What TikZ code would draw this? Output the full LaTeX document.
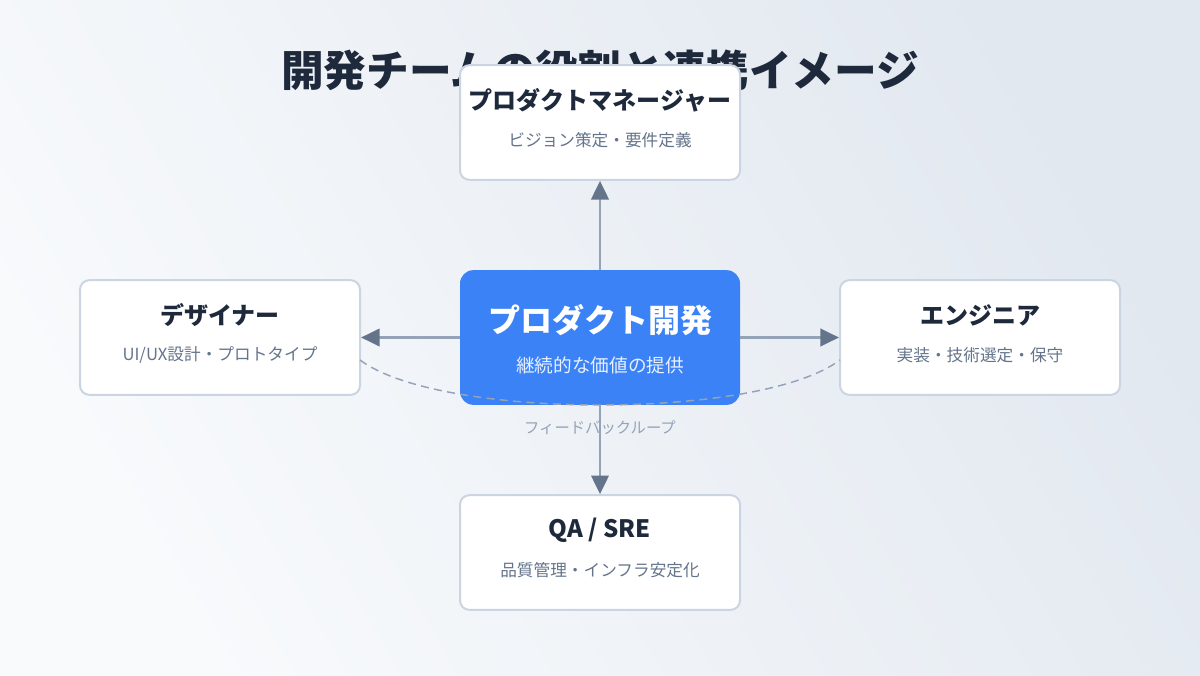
\documentclass[tikz,border=0pt]{standalone}
\usepackage{fontspec}
\setmainfont{Noto Sans CJK JP}
\usetikzlibrary{arrows.meta,positioning}
\definecolor{bgA}{HTML}{F8FAFC}
\definecolor{bgB}{HTML}{E2E8F0}
\definecolor{ink}{HTML}{1E293B}
\definecolor{subink}{HTML}{64748B}
\definecolor{edge}{HTML}{CBD5E1}
\definecolor{linkline}{HTML}{94A3B8}
\definecolor{tipcol}{HTML}{64748B}
\definecolor{core}{HTML}{3B82F6}
\tikzset{
  rolebox/.style={draw=edge, line width=1.5pt, fill=white, rounded corners=7pt,
    minimum width=210pt, minimum height=86pt},
  roletitle/.style={font=\fontsize{18}{20}\selectfont\bfseries, text=ink},
  rolesub/.style={font=\fontsize{12.5}{14}\selectfont, text=subink},
  link/.style={draw=linkline, line width=2.2pt,
    -{Triangle[length=14pt,width=13pt,fill=tipcol,color=tipcol]}}
}
\begin{document}
\begin{tikzpicture}[x=0.75pt,y=-0.75pt]
    % Fondo
    \shade[left color=bgB, right color=bgA, shading angle=-60]
      (0,0) rectangle (1200,675);
    \useasboundingbox (0,0) rectangle (1200,675);

    % Título
    \node[font=\fontsize{32}{35}\selectfont\bfseries, text=ink] (title) at (600,70) {開発チームの役割と連携イメージ};

    % Cajas de roles
    \node[rolebox] (pm) at (600,122.5) {};
    \node[rolebox] (des) at (220,337.5) {};
    \node[rolebox] (eng) at (980,337.5) {};
    \node[rolebox] (qa) at (600,552.5) {};
    \node[fill=core, rounded corners=10pt, minimum width=210pt, minimum height=101pt] (prod) at (600,337.5) {};

    % Flechas
    \draw[link] (prod.north) -- (pm.south);
    \draw[link] (prod.west) -- (des.east);
    \draw[link] (prod.east) -- (eng.west);

    % Lazo de retroalimentación
    \coordinate (fbL) at (360,360);
    \coordinate (fbR) at (840,360);
    \draw[linkline, line width=1.1pt, dash pattern=on 6pt off 4pt] (fbL) .. controls (440,420) and (760,420) .. (fbR);
    \node[font=\fontsize{11.5}{13}\selectfont, text=linkline] (fblabel) at (600,428) {フィードバックループ};
    \draw[link] (prod.south) -- (qa.north);

    % Textos
    \node[roletitle] (pmT) at (600,100) {プロダクトマネージャー};
    \node[rolesub] (pmS) at (600,140) {ビジョン策定・要件定義};
    \node[roletitle] (desT) at (220,315) {デザイナー};
    \node[rolesub] (desS) at (220,355) {UI/UX設計・プロトタイプ};
    \node[roletitle] (engT) at (980,315) {エンジニア};
    \node[rolesub] (engS) at (980,355) {実装・技術選定・保守};
    \node[roletitle] (qaT) at (600,530) {QA / SRE};
    \node[rolesub] (qaS) at (600,570) {品質管理・インフラ安定化};
    \node[font=\fontsize{24}{26}\selectfont\bfseries, text=white] (prodT) at (600,320) {プロダクト開発};
    \node[font=\fontsize{14}{16}\selectfont, text=white!88!core] (prodS) at (600,365) {継続的な価値の提供};
\end{tikzpicture}
\end{document}
